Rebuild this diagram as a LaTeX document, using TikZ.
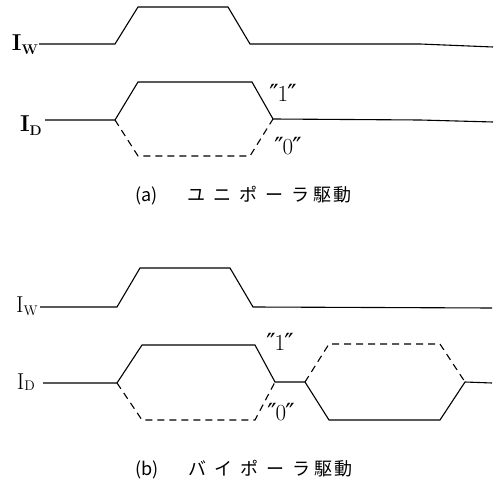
\documentclass[tikz,border=0pt]{standalone}
\usepackage{fontspec}
\newfontfamily\cjk{Noto Sans CJK JP}
\newfontfamily\primefont{DejaVu Serif}
\usetikzlibrary{positioning}

\newcommand{\qmark}{{\primefont\fontsize{25}{25}\selectfont\raisebox{-1pt}{″}}}
\newcommand{\qt}[1]{\qmark\kern-1pt#1\kern-1pt\qmark}

\begin{document}
\begin{tikzpicture}[
    x=1pt, y=-1pt,
    wave/.style={line width=1.1pt, line join=miter},
    alt/.style={wave, dash pattern=on 7pt off 5pt},
    sig/.style={inner sep=0pt, anchor=base east, font=\fontsize{23}{23}\selectfont},
    bit/.style={inner sep=0pt, font=\fontsize{23}{23}\selectfont},
    caption/.style={inner sep=0pt, anchor=west, font=\cjk\fontsize{18}{18}\selectfont}
]
  \useasboundingbox (0,0) rectangle (504,486);

  % (a) unipolar drive
  \node[sig] (IWa) at (38,51) {\bfseries I\raisebox{-4pt}{\fontsize{14}{14}\selectfont W}};
  \node[sig] (IDa) at (42,132) {\bfseries I\raisebox{-4pt}{\fontsize{14}{14}\selectfont D}};
  \coordinate (fa) at (115,120);
  \coordinate (ja) at (273,119);

  \draw[wave] (39,44) -- (115,44) -- (138,7) -- (228,7) -- (250,44) -- (420,44) -- (493,47);
  \draw[wave] (45,120) -- (fa) -- (138,82) -- (252,82) -- (ja) -- (420,120) -- (493,122);
  \draw[alt] (fa) -- (138,156) -- (250,156) -- (ja);

  \node[bit] (Qa1) at (283,93) {\qt{1}};
  \node[bit] (Qa0) at (288,146) {\qt{0}};

  \node[caption] (CapA) at (135,196) {(a)\hspace{30pt}ユ\hspace{8pt}ニ\hspace{8pt}ポ\hspace{8pt}ー\hspace{8pt}ラ\hspace{4pt}駆\hspace{2pt}動};

  % (b) bipolar drive
  \node[sig] (IWb) at (38,313) {I\raisebox{-3pt}{\fontsize{14}{14}\selectfont W}};
  \node[sig] (IDb) at (35,390) {I\raisebox{-1pt}{\fontsize{14}{14}\selectfont D}};
  \coordinate (fb) at (117,383);
  \coordinate (jb) at (275,382);
  \coordinate (kb) at (305,382);
  \coordinate (mb) at (465,382);

  \draw[wave] (40,307) -- (117,307) -- (140,268) -- (230,268) -- (253,307) -- (492,308);
  \draw[wave] (43,383) -- (fb) -- (142,345) -- (255,345) -- (jb) -- (kb) -- (329,420) -- (440,420) -- (mb) -- (492,383);
  \draw[alt] (fb) -- (142,420) -- (255,420) -- (jb);
  \draw[alt] (kb) -- (329,344) -- (440,344) -- (mb);

  \node[bit] (Qb1) at (280,342) {\qt{1}};
  \node[bit] (Qb0) at (281,412) {\qt{0}};

  \node[caption] (CapB) at (135,470) {(b)\hspace{30pt}バ\hspace{8pt}イ\hspace{8pt}ポ\hspace{8pt}ー\hspace{8pt}ラ\hspace{4pt}駆\hspace{2pt}動};
\end{tikzpicture}
\end{document}
